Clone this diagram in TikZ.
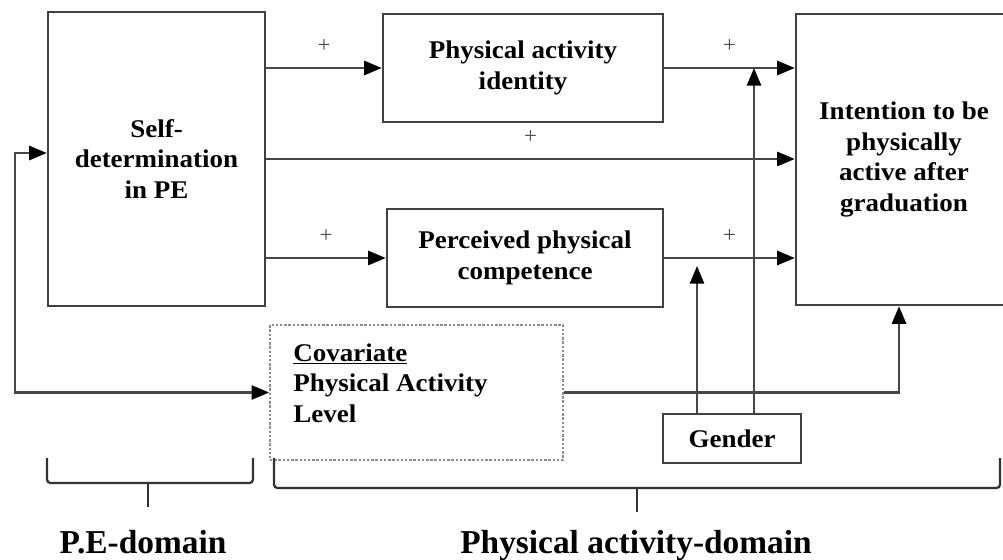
\documentclass[tikz,border=0pt]{standalone}
\usepackage{fontspec}
\setmainfont{Liberation Serif}
\newfontfamily\boxfont{Liberation Serif}[FakeStretch=1.06]
\usetikzlibrary{arrows.meta,calc}

\begin{document}
\begin{tikzpicture}[x=0.02cm,y=-0.02cm]
\tikzstyle{txt}=[
	inner sep=0pt,
	align=center,
	font=\boxfont\fontsize{14.5}{17.5}\selectfont\bfseries ]
\tikzstyle{box}=[txt, rectangle, draw=black!75, line width=1.4pt]
\tikzstyle{link}=[draw=black!72, line width=1.4pt, -{Triangle[length=10pt,width=8pt,color=black]}]
\tikzstyle{both}=[link, {Triangle[length=10pt,width=8pt,color=black]}-{Triangle[length=10pt,width=8pt,color=black]}]
\tikzstyle{plus}=[font=\fontsize{13}{13}\selectfont, text=black!70, above=5pt]
\tikzstyle{bracket}=[draw=black!80, line width=1.3pt, rounded corners=2pt]
\tikzstyle{domainlabel}=[font=\fontsize{19}{21}\selectfont\bfseries, anchor=base]
\useasboundingbox (0,0) rectangle (1003,559);
\node[box, minimum width=4.34cm, minimum height=5.88cm] (self) at (156.5,159) {Self-\\determination\\in PE};
\node[box, minimum width=5.6cm, minimum height=2.16cm] (pai) at (523,68) {Physical activity\\identity};
\node[box, minimum width=5.52cm, minimum height=1.96cm] (ppc) at (525,258) {Perceived physical\\competence};
\node[box, minimum width=4.32cm, minimum height=5.82cm] (intent) at (904,159.5) {Intention to be\\physically\\active after\\graduation};
\node[box, draw=black!45, densely dotted, line width=1pt, minimum width=5.86cm, minimum height=2.7cm] (cov) at (416.5,392.5) {};
\node[txt, anchor=north west, align=left] (covtext) at (293,343) {\underline{Covariate}\\Physical Activity\\Level};
\node[box, minimum width=2.76cm, minimum height=0.98cm] (gender) at (732,438.5) {Gender};
\coordinate (gl) at ([xshift=-0.7cm]gender.north);
\coordinate (gr) at ([xshift=0.44cm]gender.north);
\coordinate (loop) at (15,300);
\draw[link] (self.east |- pai.west) -- node[plus] {+} (pai.west);
\draw[link] (self.east) -- node[plus] {+} (self.east -| intent.west);
\draw[link] (self.east |- ppc.west) -- node[plus] {+} (ppc.west);
\draw[link] (pai.east) -- node[plus] {+} (pai.east -| intent.west);
\draw[link] (ppc.east) -- node[plus] {+} (ppc.east -| intent.west);
\draw[link] (gr) -- (gr |- pai.east);
\draw[link] (gl) -- ($(gl |- ppc.east)+(0,8)$);
\draw[link] (cov.east) -| ([xshift=-0.1cm]intent.south);
\draw[both] ([yshift=0.12cm]self.west) -| (loop |- cov.west) -- (cov.west);
\draw[bracket] (47,458) -- (47,483) -- (253,483) -- (253,458);
\draw[bracket] (148,483) -- (148,507);
\draw[bracket] (274,458) -- (274,488) -- (1000,488) -- (1000,458);
\draw[bracket] (637,488) -- (637,512);
\node[domainlabel] (pedomain) at (143,553) {P.E-domain};
\node[domainlabel] (padomain) at (636,553) {Physical activity-domain};
\end{tikzpicture}
\end{document}
